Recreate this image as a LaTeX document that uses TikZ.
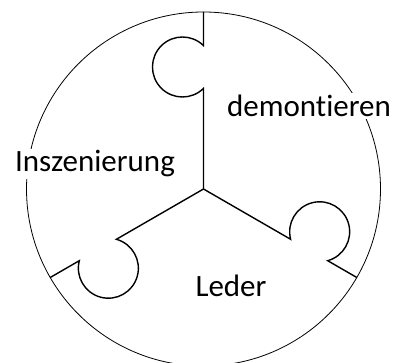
\documentclass[tikz,border=0pt]{standalone}
\usepackage{fontspec}
\setmainfont[Ligatures=NoCommon]{Carlito}
\begin{document}
\begin{tikzpicture}[x=1pt,y=1pt,
  rim/.style={line width=0.8pt},
  seam/.style={line width=1.4pt, line join=miter},
  label/.style={fill=white, inner sep=2pt, font=\fontsize{31}{31}\selectfont, anchor=base}]
\useasboundingbox (0,0) rectangle (406,363);
\coordinate (c) at (203.5,174);
% outer ring
\draw[rim] (c) circle[radius=177];
% three puzzle seams, each with a round tab on its counter-clockwise side
\foreach \ang/\nm in {90/a,-30/b,210/d}{
  \begin{scope}[shift={(c)}, rotate=\ang]
    \coordinate (\nm) at (177,0);
    \draw[seam] (0,0) -- (100.6,0)
      arc[start angle=224.5, end angle=-44.5, radius=30] -- (\nm);
  \end{scope}
}
% piece labels
\node[label] (dem) at (309,246) {demontieren};
\node[label] (ins) at (95,191) {Inszenierung};
\node[label] (led) at (231,66) {Leder};
\end{tikzpicture}
\end{document}
